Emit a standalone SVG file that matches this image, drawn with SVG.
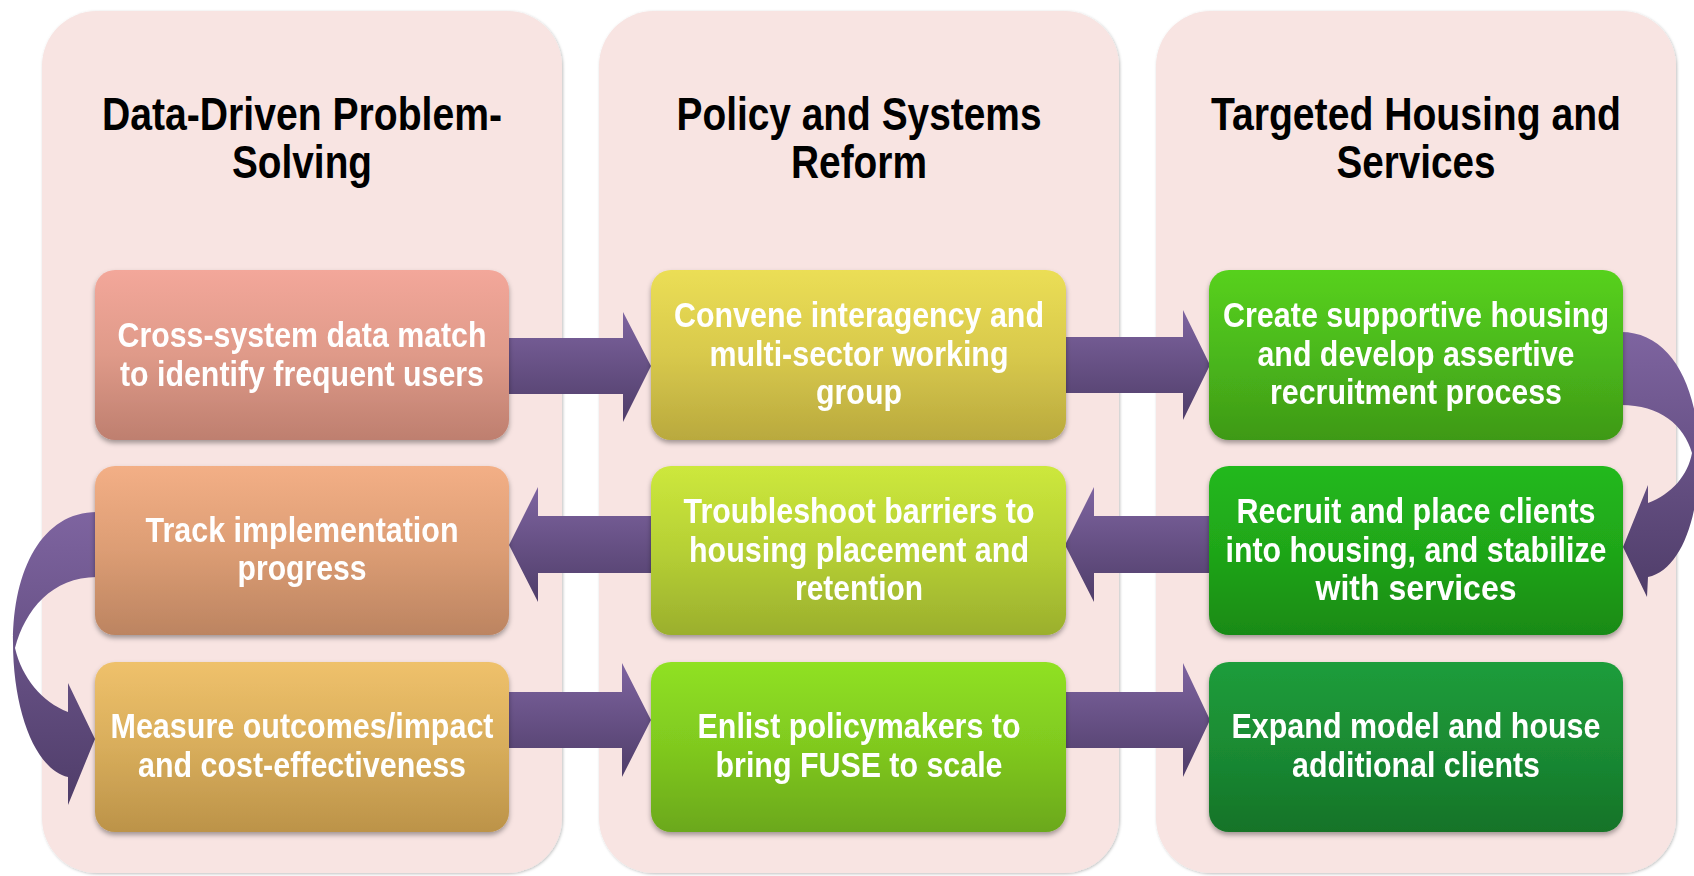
<svg xmlns="http://www.w3.org/2000/svg" width="1694" height="876" viewBox="0 0 1694 876">
<defs>
<style>
.panel{fill:#F8E4E2;filter:url(#pshadow);}
.title{font-family:"Liberation Sans Narrow","Arial Narrow","Liberation Sans",sans-serif;font-weight:bold;font-size:46px;fill:#000;text-anchor:middle;}
.lbl{font-family:"Liberation Sans Narrow","Arial Narrow","Liberation Sans",sans-serif;font-weight:bold;font-size:35px;fill:#fff;text-anchor:middle;}
.box{filter:url(#bshadow);}
.arr{fill:url(#gArr);}
</style>
<filter id="pshadow" x="-5%" y="-5%" width="110%" height="110%">
<feDropShadow dx="1" dy="1" stdDeviation="1.5" flood-color="#000" flood-opacity="0.25"/>
</filter>
<filter id="bshadow" x="-5%" y="-10%" width="110%" height="125%">
<feDropShadow dx="0" dy="3" stdDeviation="2.5" flood-color="#000" flood-opacity="0.35"/>
</filter>
<linearGradient id="gArr" x1="0" y1="0" x2="0" y2="1">
<stop offset="0" stop-color="#7E64A0"/>
<stop offset="1" stop-color="#4F3D69"/>
</linearGradient>
<linearGradient id="g1" x1="0" y1="0" x2="0" y2="1"><stop offset="0" stop-color="#F3A79A"/><stop offset="0.5" stop-color="#DF9A89"/><stop offset="1" stop-color="#BE7F6F"/></linearGradient>
<linearGradient id="g2" x1="0" y1="0" x2="0" y2="1"><stop offset="0" stop-color="#EBDE55"/><stop offset="0.5" stop-color="#D8C94C"/><stop offset="1" stop-color="#B9A93E"/></linearGradient>
<linearGradient id="g3" x1="0" y1="0" x2="0" y2="1"><stop offset="0" stop-color="#57D11E"/><stop offset="0.5" stop-color="#4BB81B"/><stop offset="1" stop-color="#3E9917"/></linearGradient>
<linearGradient id="g4" x1="0" y1="0" x2="0" y2="1"><stop offset="0" stop-color="#F3AF86"/><stop offset="0.5" stop-color="#DC9D74"/><stop offset="1" stop-color="#BC8461"/></linearGradient>
<linearGradient id="g5" x1="0" y1="0" x2="0" y2="1"><stop offset="0" stop-color="#CDE83C"/><stop offset="0.5" stop-color="#B6D035"/><stop offset="1" stop-color="#9BAF2D"/></linearGradient>
<linearGradient id="g6" x1="0" y1="0" x2="0" y2="1"><stop offset="0" stop-color="#24B91C"/><stop offset="0.5" stop-color="#1FA619"/><stop offset="1" stop-color="#198A15"/></linearGradient>
<linearGradient id="g7" x1="0" y1="0" x2="0" y2="1"><stop offset="0" stop-color="#EFC16B"/><stop offset="0.5" stop-color="#D8AD5B"/><stop offset="1" stop-color="#BC9349"/></linearGradient>
<linearGradient id="g8" x1="0" y1="0" x2="0" y2="1"><stop offset="0" stop-color="#90E123"/><stop offset="0.5" stop-color="#80C91F"/><stop offset="1" stop-color="#6BA81C"/></linearGradient>
<linearGradient id="g9" x1="0" y1="0" x2="0" y2="1"><stop offset="0" stop-color="#1E9D3B"/><stop offset="0.5" stop-color="#1A8B33"/><stop offset="1" stop-color="#147328"/></linearGradient>
</defs>
<rect width="1694" height="876" fill="#fff"/>

<g id="panel-data">
<rect class="panel" x="42" y="11" width="520" height="862" rx="55"/>
<text class="title" x="302" y="130" textLength="400" lengthAdjust="spacingAndGlyphs">Data-Driven Problem-</text>
<text class="title" x="302" y="178" textLength="140" lengthAdjust="spacingAndGlyphs">Solving</text>
</g>
<g id="panel-policy">
<rect class="panel" x="599" y="11" width="520" height="862" rx="55"/>
<text class="title" x="859" y="130" textLength="365" lengthAdjust="spacingAndGlyphs">Policy and Systems</text>
<text class="title" x="859" y="178" textLength="136" lengthAdjust="spacingAndGlyphs">Reform</text>
</g>
<g id="panel-housing">
<rect class="panel" x="1156" y="11" width="520" height="862" rx="55"/>
<text class="title" x="1416" y="130" textLength="410" lengthAdjust="spacingAndGlyphs">Targeted Housing and</text>
<text class="title" x="1416" y="178" textLength="159" lengthAdjust="spacingAndGlyphs">Services</text>
</g>

<g id="connectors">
<path class="arr" d="M505,338 H623 V312 L651,366 L623,422 V394 H505 Z"/>
<path class="arr" d="M1062,337 H1183 V310 L1210,365 L1183,420 V393 H1062 Z"/>
<path class="arr" d="M1213,516 H1094 V487 L1065,545 L1094,602 V573 H1213 Z"/>
<path class="arr" d="M655,516 H538 V487 L509,545 L538,602 V573 H655 Z"/>
<path class="arr" d="M505,692 H622 V663 L651,720 L622,777 V748 H505 Z"/>
<path class="arr" d="M1062,692 H1183 V663 L1210,720 L1183,777 V748 H1062 Z"/>
<path class="arr" d="M97,512 C42,512 13,570 13,642 C13,712 36,770 68,777 L68,805 L95,739 L68,683 L68,712 C42,702 22,678 15,648 C25,610 52,577 97,577 Z"/>
<path class="arr" d="M1621,332 C1670,332 1699,385 1699,458 C1699,520 1680,570 1648,577 L1647,597 L1623,547 L1648,485 L1648,503 C1672,494 1688,475 1692,453 C1684,425 1660,405 1621,405 Z"/>
</g>

<g id="n1" class="box">
<rect x="95" y="270" width="414" height="170" rx="20" fill="url(#g1)"/>
<text class="lbl" x="302" y="347" textLength="369" lengthAdjust="spacingAndGlyphs">Cross-system data match</text>
<text class="lbl" x="302" y="386" textLength="364" lengthAdjust="spacingAndGlyphs">to identify frequent users</text>
</g>
<g id="n2" class="box">
<rect x="651" y="270" width="415" height="170" rx="20" fill="url(#g2)"/>
<text class="lbl" x="859" y="327" textLength="370" lengthAdjust="spacingAndGlyphs">Convene interagency and</text>
<text class="lbl" x="859" y="366" textLength="299" lengthAdjust="spacingAndGlyphs">multi-sector working</text>
<text class="lbl" x="859" y="404" textLength="86" lengthAdjust="spacingAndGlyphs">group</text>
</g>
<g id="n3" class="box">
<rect x="1209" y="270" width="414" height="170" rx="20" fill="url(#g3)"/>
<text class="lbl" x="1416" y="327" textLength="386" lengthAdjust="spacingAndGlyphs">Create supportive housing</text>
<text class="lbl" x="1416" y="366" textLength="317" lengthAdjust="spacingAndGlyphs">and develop assertive</text>
<text class="lbl" x="1416" y="404" textLength="292" lengthAdjust="spacingAndGlyphs">recruitment process</text>
</g>
<g id="n4" class="box">
<rect x="95" y="466" width="414" height="169" rx="20" fill="url(#g4)"/>
<text class="lbl" x="302" y="542" textLength="313" lengthAdjust="spacingAndGlyphs">Track implementation</text>
<text class="lbl" x="302" y="580" textLength="129" lengthAdjust="spacingAndGlyphs">progress</text>
</g>
<g id="n5" class="box">
<rect x="651" y="466" width="415" height="169" rx="20" fill="url(#g5)"/>
<text class="lbl" x="859" y="523" textLength="351" lengthAdjust="spacingAndGlyphs">Troubleshoot barriers to</text>
<text class="lbl" x="859" y="562" textLength="340" lengthAdjust="spacingAndGlyphs">housing placement and</text>
<text class="lbl" x="859" y="600" textLength="128" lengthAdjust="spacingAndGlyphs">retention</text>
</g>
<g id="n6" class="box">
<rect x="1209" y="466" width="414" height="169" rx="20" fill="url(#g6)"/>
<text class="lbl" x="1416" y="523" textLength="359" lengthAdjust="spacingAndGlyphs">Recruit and place clients</text>
<text class="lbl" x="1416" y="562" textLength="381" lengthAdjust="spacingAndGlyphs">into housing, and stabilize</text>
<text class="lbl" x="1416" y="600" textLength="201" lengthAdjust="spacingAndGlyphs">with services</text>
</g>
<g id="n7" class="box">
<rect x="95" y="662" width="414" height="170" rx="20" fill="url(#g7)"/>
<text class="lbl" x="302" y="738" textLength="383" lengthAdjust="spacingAndGlyphs">Measure outcomes/impact</text>
<text class="lbl" x="302" y="777" textLength="328" lengthAdjust="spacingAndGlyphs">and cost-effectiveness</text>
</g>
<g id="n8" class="box">
<rect x="651" y="662" width="415" height="170" rx="20" fill="url(#g8)"/>
<text class="lbl" x="859" y="738" textLength="323" lengthAdjust="spacingAndGlyphs">Enlist policymakers to</text>
<text class="lbl" x="859" y="777" textLength="287" lengthAdjust="spacingAndGlyphs">bring FUSE to scale</text>
</g>
<g id="n9" class="box">
<rect x="1209" y="662" width="414" height="170" rx="20" fill="url(#g9)"/>
<text class="lbl" x="1416" y="738" textLength="369" lengthAdjust="spacingAndGlyphs">Expand model and house</text>
<text class="lbl" x="1416" y="777" textLength="248" lengthAdjust="spacingAndGlyphs">additional clients</text>
</g>
</svg>
